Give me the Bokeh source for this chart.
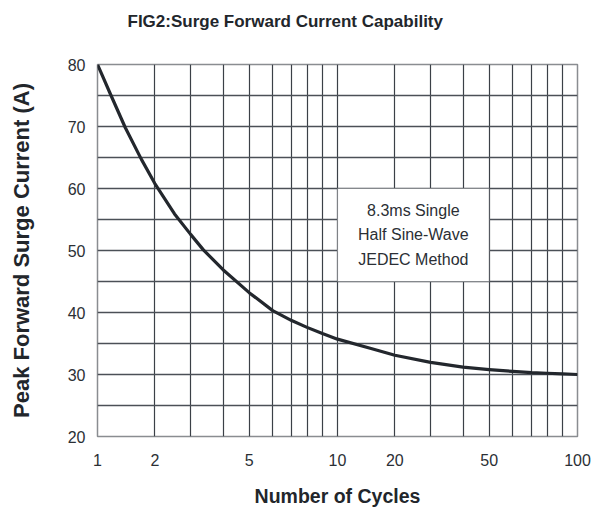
import numpy as np
from bokeh.plotting import figure
from bokeh.models import Range1d, FixedTicker, Label, BoxAnnotation, ColumnDataSource, Title
from bokeh.embed import file_html
from bokeh.resources import INLINE

# ---- data ----
cycles = [1, 1.17, 1.4, 1.7, 2, 2.5, 3, 3.36, 4, 5, 6, 7, 8, 9, 10, 15, 20, 30, 40, 50,
          60, 70, 80, 90, 100]
current = [80.0, 75.2, 69.8, 64.7, 60.8, 55.9, 52.6, 50.1, 46.9, 43.2, 40.3, 38.7, 37.6,
           36.6, 35.7, 34.2, 33.1, 31.95, 31.2, 30.8, 30.5, 30.3, 30.2, 30.1, 30.0]

x_tick_values = [1, 2, 5, 10, 20, 50, 100]
x_tick_labels = ["1", "2", "5", "10", "20", "50", "100"]
x_grid_values = [1, 2, 3, 4, 5, 6, 7, 8, 9, 10, 20, 30, 40, 50, 60, 70, 80, 90, 100]
y_tick_values = [20, 30, 40, 50, 60, 70, 80]
y_grid_values = [20, 25, 30, 35, 40, 45, 50, 55, 60, 65, 70, 75, 80]

title_text = "FIG2:Surge Forward Current Capability"
x_title = "Number of Cycles"
y_title = "Peak Forward Surge Current (A)"
note_text = "8.3ms Single\nHalf Sine-Wave\nJEDEC Method"

# ---- the chart's hand-drawn "log paper" scale (fraction of a decade for 1..10) ----
DECADE_MANTISSA = [1, 2, 3, 4, 5, 6, 7, 8, 9, 10]
DECADE_FRACTION = [0.0, 0.239, 0.388, 0.523, 0.632, 0.730, 0.809, 0.873, 0.937, 1.0]


def warp(c):
    c = np.asarray(c, dtype=float)
    d = np.floor(np.log10(c) + 1e-9)
    d = np.minimum(d, 1)
    m = c / 10 ** d
    frac = np.interp(np.log10(m), np.log10(DECADE_MANTISSA), DECADE_FRACTION)
    return d + frac


FONT = "Liberation Sans"
TXT = "#22262b"
GRID = "#3b4047"

p = figure(width=600, height=509, x_range=Range1d(0, 2), y_range=Range1d(20, 80),
           output_backend="svg", toolbar_location=None,
           min_border_left=97, min_border_right=23, min_border_top=64, min_border_bottom=72)
p.background_fill_color = "white"
p.border_fill_color = "white"
p.outline_line_color = "#8a8d91"
p.outline_line_width = 1.5

# title, with an empty spacer panel between it and the frame
p.title = Title(text=title_text, text_font=FONT, text_font_size="17px",
                text_font_style="bold", text_color=TXT, align="left",
                offset=30, standoff=10)
p.add_layout(Title(text=" ", text_font_size="10px", standoff=16), "above")

# axes
xt = [float(v) for v in warp(x_tick_values)]
p.xaxis.ticker = FixedTicker(ticks=xt, minor_ticks=[])
p.xaxis.major_label_overrides = {v: l for v, l in zip(xt, x_tick_labels)}
p.yaxis.ticker = FixedTicker(ticks=y_tick_values, minor_ticks=[])
for ax in (p.xaxis[0], p.yaxis[0]):
    ax.axis_line_color = None
    ax.major_tick_line_color = None
    ax.minor_tick_line_color = None
    ax.major_tick_out = 0
    ax.major_tick_in = 0
    ax.major_label_text_font = FONT
    ax.major_label_text_font_size = "16px"
    ax.major_label_text_color = "#2b2f35"
    ax.axis_label_text_font = FONT
    ax.axis_label_text_font_style = "bold"
    ax.axis_label_text_color = TXT
p.xaxis.major_label_standoff = 17
p.yaxis.major_label_standoff = 12
p.xaxis.axis_label = x_title
p.xaxis.axis_label_text_font_size = "19.5px"
p.xaxis.axis_label_standoff = 16
p.yaxis.axis_label = y_title
p.yaxis.axis_label_text_font_size = "22px"
p.yaxis.axis_label_standoff = 31

# grid
p.xgrid.ticker = FixedTicker(ticks=[float(v) for v in warp(x_grid_values)], minor_ticks=[])
p.ygrid.ticker = FixedTicker(ticks=y_grid_values, minor_ticks=[])
p.xgrid.grid_line_color = GRID
p.xgrid.grid_line_width = 1.2
p.ygrid.grid_line_color = "#4b5057"
p.ygrid.grid_line_width = 1.6

# curve
src = ColumnDataSource(dict(x=warp(cycles), y=current))
p.line("x", "y", source=src, line_color="#23272d", line_width=3.2, line_join="round")

# note box
bx0, bx1 = float(warp(10)), float(warp(50))
p.add_layout(BoxAnnotation(left=bx0, right=bx1, bottom=45, top=60,
                           fill_color="white", fill_alpha=1.0,
                           line_color=GRID, line_width=1.2))
p.add_layout(Label(x=(bx0 + bx1) / 2, y=52.5, text=note_text,
                   text_align="center", text_baseline="middle",
                   text_font=FONT, text_font_size="16px", text_color="#2b2f35",
                   text_line_height=1.45))

open("out.html", "w").write(file_html(p, INLINE))
